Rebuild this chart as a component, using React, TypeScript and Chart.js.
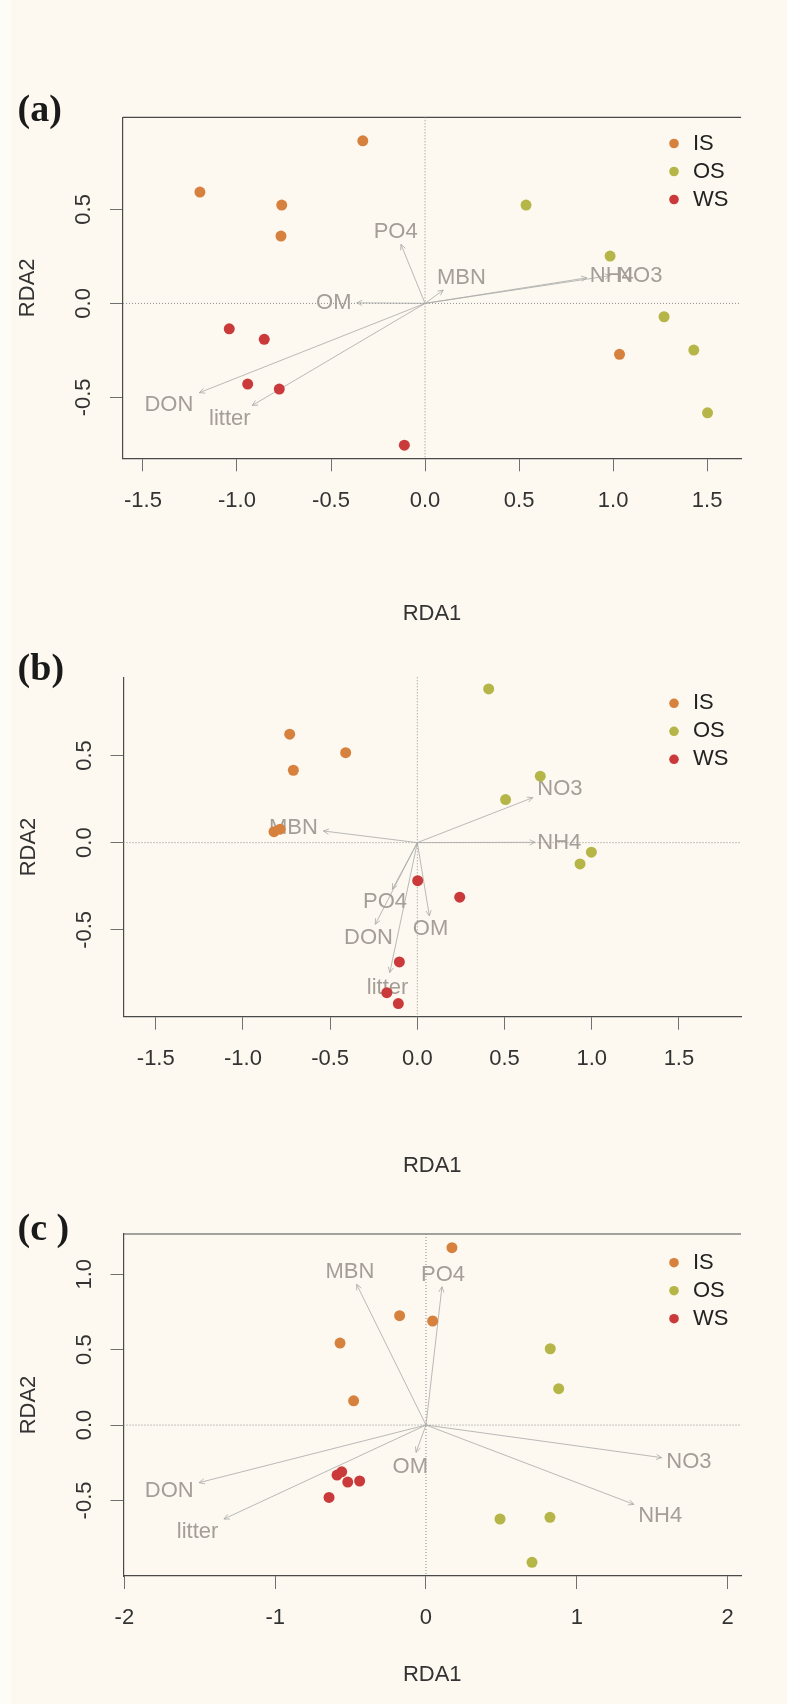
import React, { useEffect, useRef } from "react";
import { Chart, registerables } from "chart.js";

Chart.register(...registerables);

type Pt = [number, number];

// ---- groups -------------------------------------------------------------
const GROUP_NAMES = ["IS", "OS", "WS"];
const GROUP_COLORS = ["#D7813F", "#B6B648", "#CB3A3B"];

// environmental variables (same order in every panel)
const ENV_NAMES = ["PO4", "MBN", "OM", "DON", "litter", "NH4", "NO3"];

// ---- panel (a) ----------------------------------------------------------
const A_IS: Pt[] = [[-0.331, 0.865], [-1.197, 0.592], [-0.762, 0.523], [-0.766, 0.358], [1.034, -0.271]];
const A_OS: Pt[] = [[0.537, 0.523], [0.984, 0.252], [1.271, -0.071], [1.429, -0.248], [1.502, -0.582]];
const A_WS: Pt[] = [[-1.041, -0.135], [-0.855, -0.191], [-0.943, -0.429], [-0.775, -0.456], [-0.11, -0.754]];
const A_ENV_TIPS: Pt[] = [[-0.128, 0.314], [0.097, 0.071], [-0.363, 0.003], [-1.2, -0.475], [-0.919, -0.543], [0.86, 0.136], [0.985, 0.148]];
const A_ENV_LABELS: Pt[] = [[-0.156, 0.381], [0.193, 0.133], [-0.485, 0.0], [-1.362, -0.541], [-1.038, -0.617], [0.993, 0.145], [1.142, 0.145]];
const A_X_TICKS = [-1.5, -1.0, -0.5, 0.0, 0.5, 1.0, 1.5];
const A_Y_TICKS = [-0.5, 0.0, 0.5];
const A_X_RANGE: Pt = [-1.606, 1.68];
const A_Y_RANGE: Pt = [-0.824, 0.99];

// ---- panel (b) ----------------------------------------------------------
const B_IS: Pt[] = [[-0.732, 0.622], [-0.411, 0.516], [-0.711, 0.415], [-0.822, 0.063], [-0.787, 0.077]];
const B_OS: Pt[] = [[0.409, 0.881], [0.705, 0.381], [0.506, 0.247], [0.998, -0.055], [0.933, -0.122]];
const B_WS: Pt[] = [[0.002, -0.218], [-0.103, -0.684], [-0.175, -0.86], [-0.109, -0.923], [0.243, -0.313]];
const B_ENV_TIPS: Pt[] = [[-0.143, -0.267], [-0.539, 0.067], [0.069, -0.42], [-0.241, -0.468], [-0.158, -0.745], [0.675, 0.002], [0.662, 0.258]];
const B_ENV_LABELS: Pt[] = [[-0.185, -0.342], [-0.711, 0.082], [0.076, -0.497], [-0.28, -0.545], [-0.171, -0.835], [0.814, 0.0], [0.818, 0.31]];
const B_X_TICKS = [-1.5, -1.0, -0.5, 0.0, 0.5, 1.0, 1.5];
const B_Y_TICKS = [-0.5, 0.0, 0.5];
const B_X_RANGE: Pt = [-1.685, 1.856];
const B_Y_RANGE: Pt = [-0.998, 0.948];

// ---- panel (c) ----------------------------------------------------------
const C_IS: Pt[] = [[-0.57, 0.544], [-0.175, 0.725], [0.044, 0.69], [-0.48, 0.161], [0.172, 1.176]];
const C_OS: Pt[] = [[0.824, 0.506], [0.88, 0.241], [0.491, -0.623], [0.822, -0.612], [0.703, -0.91]];
const C_WS: Pt[] = [[-0.59, -0.332], [-0.559, -0.31], [-0.519, -0.378], [-0.44, -0.371], [-0.643, -0.48]];
const C_ENV_TIPS: Pt[] = [[0.106, 0.917], [-0.46, 0.933], [-0.066, -0.181], [-1.505, -0.382], [-1.34, -0.623], [1.379, -0.526], [1.563, -0.216]];
const C_ENV_LABELS: Pt[] = [[0.113, 0.994], [-0.504, 1.016], [-0.104, -0.276], [-1.703, -0.44], [-1.515, -0.709], [1.553, -0.6], [1.744, -0.247]];
const C_X_TICKS = [-2, -1, 0, 1, 2];
const C_Y_TICKS = [-0.5, 0.0, 0.5, 1.0];
const C_X_RANGE: Pt = [-2.006, 2.089];
const C_Y_RANGE: Pt = [-1.001, 1.267];

// ---- styling ------------------------------------------------------------
const PAGE_W = 787;
const PAGE_H = 1704;
const BG = "#FDF9F0";
const EDGE_BG = "#FEFCF7";
const SANS = '"Liberation Sans", Arial, Helvetica, sans-serif';
const SERIF = '"Liberation Serif", "Times New Roman", serif';
const FRAME_COLOR = "#4A4A4A";
const TICK_COLOR = "#707070";
const TEXT_COLOR = "#333333";
const ENV_COLOR = "#A59D98";
const ARROW_COLOR = "#A8A8A8";
const ZERO_COLOR = "#8C8C8C";
const X_AXIS_H = 60;
const TICK_LEN = 13;

interface PanelDef {
  tag: string;
  canvasTop: number;
  canvasHeight: number;
  area: { left: number; right: number; top: number; bottom: number };
  tagBaseline: number;
  xTitleY: number;
  legendTop: number;
  frameTop: boolean;
  sites: Pt[][];
  envTips: Pt[];
  envLabels: Pt[];
  xTicks: number[];
  yTicks: number[];
  xDec: number;
  yDec: number;
  xRange: Pt;
  yRange: Pt;
}

const PANELS: PanelDef[] = [
  {
    tag: "(a)", canvasTop: 80, canvasHeight: 560,
    area: { left: 123, right: 741, top: 117.3, bottom: 458.3 },
    tagBaseline: 120.5, xTitleY: 614, legendTop: 26.2, frameTop: true,
    sites: [A_IS, A_OS, A_WS], envTips: A_ENV_TIPS, envLabels: A_ENV_LABELS,
    xTicks: A_X_TICKS, yTicks: A_Y_TICKS, xDec: 1, yDec: 1, xRange: A_X_RANGE, yRange: A_Y_RANGE,
  },
  {
    tag: "(b)", canvasTop: 640, canvasHeight: 550,
    area: { left: 123.5, right: 741, top: 677.3, bottom: 1016.7 },
    tagBaseline: 680.2, xTitleY: 1166, legendTop: 26, frameTop: false,
    sites: [B_IS, B_OS, B_WS], envTips: B_ENV_TIPS, envLabels: B_ENV_LABELS,
    xTicks: B_X_TICKS, yTicks: B_Y_TICKS, xDec: 1, yDec: 1, xRange: B_X_RANGE, yRange: B_Y_RANGE,
  },
  {
    tag: "(c )", canvasTop: 1190, canvasHeight: 514,
    area: { left: 123.5, right: 741, top: 1234, bottom: 1576 },
    tagBaseline: 1239.7, xTitleY: 1675, legendTop: 28.7, frameTop: true,
    sites: [C_IS, C_OS, C_WS], envTips: C_ENV_TIPS, envLabels: C_ENV_LABELS,
    xTicks: C_X_TICKS, yTicks: C_Y_TICKS, xDec: 0, yDec: 1, xRange: C_X_RANGE, yRange: C_Y_RANGE,
  },
];

function line(ctx: CanvasRenderingContext2D, x1: number, y1: number, x2: number, y2: number) {
  ctx.beginPath();
  ctx.moveTo(x1, y1);
  ctx.lineTo(x2, y2);
  ctx.stroke();
}

// Draws the frame top, zero reference lines, biplot arrows and all free text.
function biplotPlugin(def: PanelDef) {
  return {
    id: "biplot",
    beforeDatasetsDraw(chart: any) {
      const { ctx, chartArea: ca, scales } = chart;
      const xs = scales.x;
      const ys = scales.y;
      const x0 = xs.getPixelForValue(0);
      const y0 = ys.getPixelForValue(0);
      ctx.save();

      if (def.frameTop) {
        ctx.strokeStyle = FRAME_COLOR;
        ctx.lineWidth = 1.2;
        line(ctx, ca.left, ca.top, ca.right, ca.top);
      }

      // dotted zero lines
      ctx.strokeStyle = ZERO_COLOR;
      ctx.lineWidth = 1;
      ctx.setLineDash([1, 2]);
      line(ctx, ca.left, y0, ca.right, y0);
      line(ctx, x0, ca.top, x0, ca.bottom);
      ctx.setLineDash([]);

      // environmental arrows
      ctx.strokeStyle = ARROW_COLOR;
      ctx.lineWidth = 0.8;
      def.envTips.forEach(([vx, vy]) => {
        const tx = xs.getPixelForValue(vx);
        const ty = ys.getPixelForValue(vy);
        line(ctx, x0, y0, tx, ty);
        const ang = Math.atan2(ty - y0, tx - x0);
        const L = 6;
        const s = Math.PI / 7;
        line(ctx, tx, ty, tx - L * Math.cos(ang - s), ty - L * Math.sin(ang - s));
        line(ctx, tx, ty, tx - L * Math.cos(ang + s), ty - L * Math.sin(ang + s));
      });

      // arrow labels
      ctx.fillStyle = ENV_COLOR;
      ctx.font = `22px ${SANS}`;
      ctx.textAlign = "center";
      ctx.textBaseline = "middle";
      def.envLabels.forEach(([vx, vy], i) => {
        ctx.fillText(ENV_NAMES[i], xs.getPixelForValue(vx), ys.getPixelForValue(vy));
      });
      ctx.restore();
    },
    afterDraw(chart: any) {
      const { ctx, chartArea: ca, scales } = chart;
      const ys = scales.y;
      ctx.save();

      // rotated y tick labels
      ctx.fillStyle = TEXT_COLOR;
      ctx.font = `22px ${SANS}`;
      ctx.textAlign = "center";
      ctx.textBaseline = "middle";
      ys.ticks.forEach((t: any) => {
        const py = ys.getPixelForValue(t.value);
        ctx.save();
        ctx.translate(ca.left - 39, py);
        ctx.rotate(-Math.PI / 2);
        ctx.fillText(Number(t.value).toFixed(def.yDec), 0, 0);
        ctx.restore();
      });

      // axis titles
      ctx.save();
      ctx.translate(ca.left - 95, (ca.top + ca.bottom) / 2);
      ctx.rotate(-Math.PI / 2);
      ctx.fillText("RDA2", 0, 0);
      ctx.restore();
      ctx.fillText("RDA1", (ca.left + ca.right) / 2, def.xTitleY - def.canvasTop);

      // legend
      GROUP_NAMES.forEach((g, i) => {
        const ly = ca.top + def.legendTop + i * 28;
        ctx.fillStyle = GROUP_COLORS[i];
        ctx.beginPath();
        ctx.arc(674, ly, 4.8, 0, Math.PI * 2);
        ctx.fill();
        ctx.fillStyle = "#222222";
        ctx.textAlign = "left";
        ctx.fillText(g, 693, ly);
      });

      // panel tag
      ctx.fillStyle = "#1A1A1A";
      ctx.font = `bold 38px ${SERIF}`;
      ctx.textAlign = "left";
      ctx.textBaseline = "alphabetic";
      ctx.fillText(def.tag, 17.6, def.tagBaseline - def.canvasTop);
      ctx.restore();
    },
  };
}

function BiplotPanel({ def }: { def: PanelDef }) {
  const ref = useRef<HTMLCanvasElement | null>(null);

  useEffect(() => {
    const canvas = ref.current;
    if (!canvas) return;
    const a = def.area;
    const chart = new Chart(canvas, {
      type: "scatter",
      data: {
        datasets: GROUP_NAMES.map((g, i) => ({
          label: g,
          data: def.sites[i].map(([x, y]) => ({ x, y })),
          backgroundColor: GROUP_COLORS[i],
          borderWidth: 0,
          pointRadius: 5.5,
          pointHoverRadius: 5.5,
          clip: false as any,
        })),
      },
      options: {
        animation: false,
        responsive: false,
        devicePixelRatio: 1,
        events: [],
        layout: {
          autoPadding: false,
          padding: {
            left: 0,
            right: PAGE_W - a.right,
            top: a.top - def.canvasTop,
            bottom: def.canvasTop + def.canvasHeight - a.bottom - X_AXIS_H,
          },
        },
        plugins: {
          legend: { display: false },
          tooltip: { enabled: false },
          title: { display: false },
        },
        scales: {
          x: {
            type: "linear",
            position: "bottom",
            min: def.xRange[0],
            max: def.xRange[1],
            afterBuildTicks: (s: any) => {
              s.ticks = def.xTicks.map((v) => ({ value: v }));
            },
            afterFit: (s: any) => {
              s.height = X_AXIS_H;
            },
            grid: {
              display: true,
              drawOnChartArea: false,
              drawTicks: true,
              tickLength: TICK_LEN,
              tickColor: TICK_COLOR,
              tickWidth: 1,
            },
            border: { display: true, color: FRAME_COLOR, width: 1.2 },
            ticks: {
              autoSkip: false,
              maxRotation: 0,
              minRotation: 0,
              padding: 16,
              color: TEXT_COLOR,
              font: { family: SANS, size: 22 },
              callback: (v: any) => Number(v).toFixed(def.xDec),
            },
          },
          y: {
            type: "linear",
            position: "left",
            min: def.yRange[0],
            max: def.yRange[1],
            afterBuildTicks: (s: any) => {
              s.ticks = def.yTicks.map((v) => ({ value: v }));
            },
            afterFit: (s: any) => {
              s.width = a.left;
            },
            grid: {
              display: true,
              drawOnChartArea: false,
              drawTicks: true,
              tickLength: TICK_LEN,
              tickColor: TICK_COLOR,
              tickWidth: 1,
            },
            border: { display: true, color: FRAME_COLOR, width: 1.2 },
            ticks: { display: false },
          },
        },
      } as any,
      plugins: [biplotPlugin(def) as any],
    });
    return () => chart.destroy();
  }, [def]);

  return (
    <canvas
      ref={ref}
      width={PAGE_W}
      height={def.canvasHeight}
      style={{ position: "absolute", left: 0, top: def.canvasTop, width: PAGE_W, height: def.canvasHeight }}
    />
  );
}

export default function App() {
  return (
    <div
      style={{
        position: "absolute",
        left: 0,
        top: 0,
        width: PAGE_W,
        height: PAGE_H,
        background: BG,
        overflow: "hidden",
      }}
    >
      <div style={{ position: "absolute", left: 0, top: 0, width: 11, height: PAGE_H, background: EDGE_BG }} />
      {PANELS.map((p) => (
        <BiplotPanel key={p.tag} def={p} />
      ))}
    </div>
  );
}
